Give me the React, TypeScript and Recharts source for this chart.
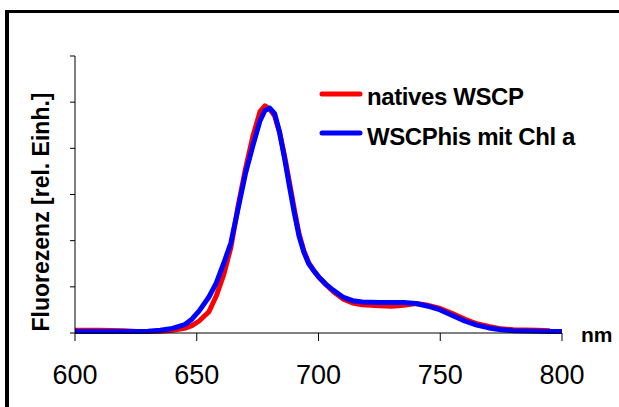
import { LineChart, Line, XAxis, YAxis } from 'recharts'

// wavelength in nm
const wavelengths = [
  600, 610, 620, 625, 630, 635, 640, 645, 648, 651, 655, 658, 661, 664, 667, 670, 673, 676, 678, 680,
  682, 684, 686, 688, 690, 692, 694, 696, 698, 700, 703, 706, 710, 714, 718, 725, 730, 735, 740, 745,
  750, 755, 760, 765, 770, 775, 780, 790, 795, 800,
]

// natives WSCP
const nativesValues = [
  0.06, 0.06, 0.05, 0.03, 0.03, 0.04, 0.06, 0.1, 0.16, 0.26, 0.46, 0.8, 1.25, 1.85, 2.75, 3.55, 4.25, 4.8, 4.92, 4.85,
  4.7, 4.35, 3.85, 3.28, 2.7, 2.15, 1.78, 1.52, 1.36, 1.22, 1.05, 0.9, 0.74, 0.65, 0.61, 0.59, 0.58, 0.6, 0.64, 0.6,
  0.53, 0.42, 0.3, 0.2, 0.14, 0.09, 0.07, 0.06, 0.05, null,
]

// WSCPhis mit Chl a
const hisValues = [
  0.03, 0.03, 0.03, 0.03, 0.04, 0.06, 0.1, 0.18, 0.3, 0.48, 0.78, 1.08, 1.5, 1.95, 2.7, 3.45, 4.05, 4.6, 4.82, 4.87,
  4.75, 4.35, 3.8, 3.2, 2.62, 2.1, 1.75, 1.5, 1.35, 1.22, 1.06, 0.93, 0.78, 0.7, 0.67, 0.66, 0.66, 0.66, 0.64, 0.58,
  0.5, 0.38, 0.26, 0.17, 0.11, 0.07, 0.05, 0.04, 0.03, 0.03,
]

const xTicks = [600, 650, 700, 750, 800]
const yTicks = [0, 1, 2, 3, 4, 5, 6]

const seriesNames = ['natives WSCP', 'WSCPhis mit Chl a']
const seriesColors = ['#ff0000', '#0000ff']

const data = wavelengths.map((nm, i) => ({ nm, natives: nativesValues[i], his: hisValues[i] }))

const FONT = '"Liberation Sans", Arial, sans-serif'

export default function App() {
  return (
    <div style={{ position: 'absolute', left: 0, top: 0, width: 619, height: 407, overflow: 'hidden', background: '#fff', fontFamily: FONT }}>
      <div style={{ position: 'absolute', left: 5, top: 10, width: 700, height: 500, borderLeft: '4px solid #000', borderTop: '3px solid #000' }} />
      <LineChart width={619} height={407} data={data} margin={{ top: 56, right: 57, left: 0, bottom: 0 }}>
        <XAxis
          dataKey="nm"
          type="number"
          domain={[600, 800]}
          ticks={xTicks}
          height={74}
          stroke="#000"
          tickSize={8}
          tickMargin={24}
          tick={{ fill: '#000', fontSize: 27, fontFamily: FONT }}
        />
        <YAxis
          type="number"
          domain={[0, 6]}
          ticks={yTicks}
          width={75}
          stroke="#000"
          tickSize={5}
          tickFormatter={() => ''}
        />
        <Line dataKey="natives" name={seriesNames[0]} type="linear" stroke={seriesColors[0]} strokeWidth={5} dot={false} strokeLinejoin="round" isAnimationActive={false} />
        <Line dataKey="his" name={seriesNames[1]} type="linear" stroke={seriesColors[1]} strokeWidth={5} dot={false} strokeLinejoin="round" isAnimationActive={false} />
      </LineChart>
      {/* legend */}
      <svg width={290} height={70} style={{ position: 'absolute', left: 316, top: 80 }}>
        {seriesNames.map((name, i) => (
          <g key={name}>
            <line x1={6} x2={44} y1={14 + i * 39} y2={14 + i * 39} stroke={seriesColors[i]} strokeWidth={5} strokeLinecap="round" />
            <text x={51} y={25 + i * 40} fontFamily={FONT} fontWeight="bold" fontSize={24} letterSpacing={-0.4} fill="#000">
              {name}
            </text>
          </g>
        ))}
      </svg>
      <div style={{ position: 'absolute', left: 41, top: 212, transform: 'translate(-50%, -50%) rotate(-90deg)', whiteSpace: 'nowrap', fontWeight: 'bold', fontSize: 23, lineHeight: 1 }}>
        Fluorezenz [rel. Einh.]
      </div>
      <div style={{ position: 'absolute', left: 581, top: 324, fontWeight: 'bold', fontSize: 21, lineHeight: 1 }}>nm</div>
    </div>
  )
}
